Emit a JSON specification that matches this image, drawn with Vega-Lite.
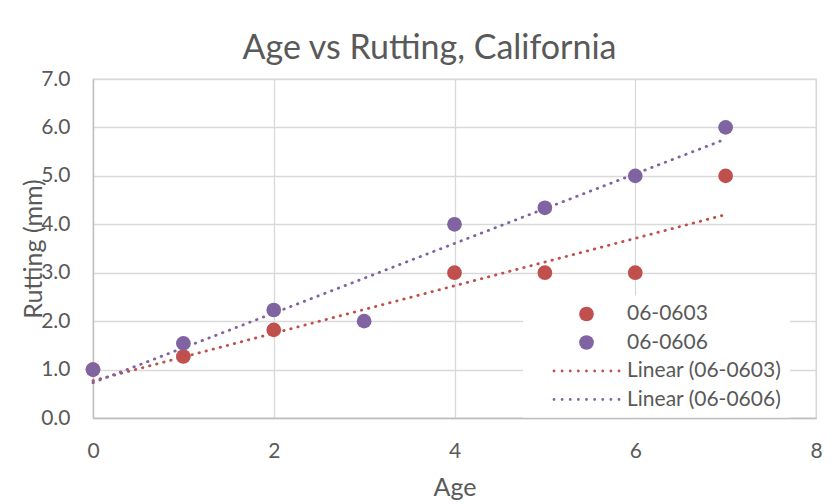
{
  "$schema": "https://vega.github.io/schema/vega-lite/v6.json",
  "width": 723,
  "height": 339,
  "autosize": {"type": "none"},
  "padding": {"left": 93, "top": 79, "right": 21, "bottom": 86},
  "background": "white",
  "config": {
    "font": "Lato",
    "view": {"stroke": "#D9D9D9", "strokeWidth": 1.3},
    "axis": {
      "labelFont": "Lato",
      "titleFont": "Lato",
      "labelColor": "#595959",
      "titleColor": "#595959",
      "gridColor": "#D9D9D9",
      "gridWidth": 1.3,
      "domainColor": "#BFBFBF",
      "domainWidth": 1.3,
      "ticks": false
    }
  },
  "title": {
    "text": "Age vs Rutting, California",
    "font": "Lato",
    "fontSize": 34,
    "fontWeight": "normal",
    "color": "#595959",
    "anchor": "middle",
    "frame": "group",
    "baseline": "alphabetic",
    "offset": 20,
    "dx": -25,
    "dy": 45
  },
  "datasets": {
    "points": [
      {"series": "06-0603", "age": 0, "rutting": 1.0},
      {"series": "06-0603", "age": 1, "rutting": 1.27},
      {"series": "06-0603", "age": 2, "rutting": 1.82},
      {"series": "06-0603", "age": 4, "rutting": 3.0},
      {"series": "06-0603", "age": 5, "rutting": 3.0},
      {"series": "06-0603", "age": 6, "rutting": 3.0},
      {"series": "06-0603", "age": 7, "rutting": 5.0},
      {"series": "06-0606", "age": 0, "rutting": 1.0},
      {"series": "06-0606", "age": 1, "rutting": 1.54},
      {"series": "06-0606", "age": 2, "rutting": 2.23},
      {"series": "06-0606", "age": 3, "rutting": 2.0},
      {"series": "06-0606", "age": 4, "rutting": 4.0},
      {"series": "06-0606", "age": 5, "rutting": 4.34},
      {"series": "06-0606", "age": 6, "rutting": 5.0},
      {"series": "06-0606", "age": 7, "rutting": 6.0}
    ],
    "trend": [
      {"series": "Linear (06-0603)", "age": 0, "rutting": 0.77},
      {"series": "Linear (06-0603)", "age": 7, "rutting": 4.2},
      {"series": "Linear (06-0606)", "age": 0, "rutting": 0.73},
      {"series": "Linear (06-0606)", "age": 7, "rutting": 5.76}
    ]
  },
  "layer": [
    {
      "data": {"name": "points"},
      "mark": {"type": "point", "filled": true, "size": 216, "opacity": 1, "strokeWidth": 0},
      "encoding": {
        "x": {
          "field": "age", "type": "quantitative",
          "scale": {"domain": [0, 8], "nice": false, "zero": false},
          "axis": {
            "values": [0, 2, 4, 6, 8],
            "format": "d",
            "labelFlush": false,
            "title": "Age",
            "labelFontSize": 21,
            "labelPadding": 22,
            "titleFontSize": 25,
            "titleFontWeight": "normal",
            "titleBaseline": "alphabetic",
            "titleY": 77,
            "domain": true
          }
        },
        "y": {
          "field": "rutting", "type": "quantitative",
          "scale": {"domain": [0, 7], "nice": false},
          "axis": {
            "values": [0, 1, 2, 3, 4, 5, 6, 7],
            "format": ".1f",
            "labelFlush": false,
            "title": "Rutting (mm)",
            "labelFontSize": 21,
            "labelPadding": 23,
            "titleFontSize": 25,
            "titleFontWeight": "normal",
            "titleAngle": -90,
            "titleAlign": "center",
            "titleBaseline": "middle",
            "titleX": -60,
            "titleY": 169.5,
            "domain": true
          }
        },
        "color": {
          "field": "series", "type": "nominal",
          "scale": {
            "domain": ["06-0603", "06-0606", "Linear (06-0603)", "Linear (06-0606)"],
            "range": ["#C0504D", "#8064A2", "#C0504D", "#8064A2"]
          },
          "legend": {
            "title": null,
            "orient": "none",
            "legendX": 430,
            "legendY": 216.5,
            "fillColor": "white",
            "padding": 8,
            "symbolSize": 216,
            "symbolStrokeWidth": 0,
            "symbolOffset": 45,
            "labelOffset": 30,
            "labelFontSize": 21,
            "labelFont": "Lato",
            "labelColor": "#595959",
            "rowPadding": 6.5
          }
        },
        "shape": {
          "field": "series", "type": "nominal",
          "scale": {
            "domain": ["06-0603", "06-0606", "Linear (06-0603)", "Linear (06-0606)"],
            "range": [
              "circle",
              "circle",
              "M-4.23,0A0.19,0.19,0,1,1,-4.61,0A0.19,0.19,0,1,1,-4.23,0ZM-3.13,0A0.19,0.19,0,1,1,-3.51,0A0.19,0.19,0,1,1,-3.13,0ZM-2.02,0A0.19,0.19,0,1,1,-2.4,0A0.19,0.19,0,1,1,-2.02,0ZM-0.92,0A0.19,0.19,0,1,1,-1.3,0A0.19,0.19,0,1,1,-0.92,0ZM0.19,0A0.19,0.19,0,1,1,-0.19,0A0.19,0.19,0,1,1,0.19,0ZM1.3,0A0.19,0.19,0,1,1,0.92,0A0.19,0.19,0,1,1,1.3,0ZM2.4,0A0.19,0.19,0,1,1,2.02,0A0.19,0.19,0,1,1,2.4,0ZM3.51,0A0.19,0.19,0,1,1,3.13,0A0.19,0.19,0,1,1,3.51,0ZM4.61,0A0.19,0.19,0,1,1,4.23,0A0.19,0.19,0,1,1,4.61,0Z",
              "M-4.23,0A0.19,0.19,0,1,1,-4.61,0A0.19,0.19,0,1,1,-4.23,0ZM-3.13,0A0.19,0.19,0,1,1,-3.51,0A0.19,0.19,0,1,1,-3.13,0ZM-2.02,0A0.19,0.19,0,1,1,-2.4,0A0.19,0.19,0,1,1,-2.02,0ZM-0.92,0A0.19,0.19,0,1,1,-1.3,0A0.19,0.19,0,1,1,-0.92,0ZM0.19,0A0.19,0.19,0,1,1,-0.19,0A0.19,0.19,0,1,1,0.19,0ZM1.3,0A0.19,0.19,0,1,1,0.92,0A0.19,0.19,0,1,1,1.3,0ZM2.4,0A0.19,0.19,0,1,1,2.02,0A0.19,0.19,0,1,1,2.4,0ZM3.51,0A0.19,0.19,0,1,1,3.13,0A0.19,0.19,0,1,1,3.51,0ZM4.61,0A0.19,0.19,0,1,1,4.23,0A0.19,0.19,0,1,1,4.61,0Z"
            ]
          },
          "legend": {
            "title": null,
            "orient": "none",
            "legendX": 430,
            "legendY": 216.5,
            "fillColor": "white",
            "padding": 8,
            "symbolSize": 216,
            "symbolStrokeWidth": 0,
            "symbolOffset": 45,
            "labelOffset": 30,
            "labelFontSize": 21,
            "labelFont": "Lato",
            "labelColor": "#595959",
            "rowPadding": 6.5
          }
        }
      }
    },
    {
      "data": {"name": "trend"},
      "mark": {"type": "line", "strokeDash": [0.5, 6.8], "strokeCap": "round", "strokeWidth": 2.8},
      "encoding": {
        "x": {"field": "age", "type": "quantitative"},
        "y": {"field": "rutting", "type": "quantitative"},
        "color": {"field": "series", "type": "nominal", "legend": null},
        "detail": {"field": "series", "type": "nominal"}
      }
    }
  ]
}
